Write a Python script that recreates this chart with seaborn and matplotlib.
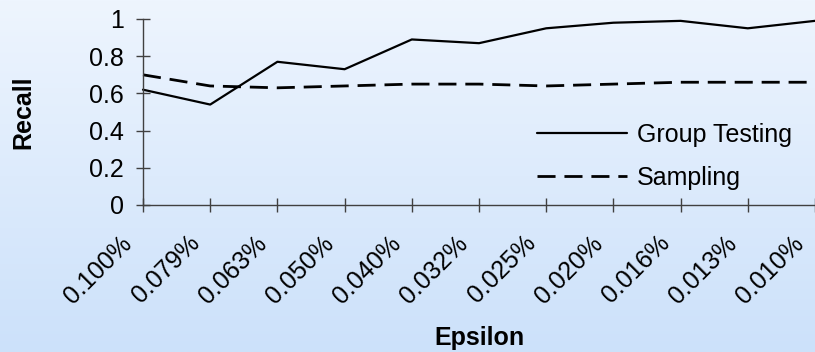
import numpy as np
import pandas as pd
import matplotlib
matplotlib.use("Agg")
import matplotlib.pyplot as plt
import matplotlib.transforms as mtransforms
import seaborn as sns

# Epsilon values (x categories) and recall per method
epsilon = ["0.100%", "0.079%", "0.063%", "0.050%", "0.040%", "0.032%",
           "0.025%", "0.020%", "0.016%", "0.013%", "0.010%"]
group_testing = [0.62, 0.54, 0.77, 0.73, 0.89, 0.87, 0.95, 0.98, 0.99, 0.95, 0.99]
sampling = [0.70, 0.64, 0.63, 0.64, 0.65, 0.65, 0.64, 0.65, 0.66, 0.66, 0.66]
series_names = ["Group Testing", "Sampling"]
y_ticks = [0, 0.2, 0.4, 0.6, 0.8, 1.0]
y_tick_labels = ["0", "0.2", "0.4", "0.6", "0.8", "1"]

df = pd.DataFrame({
    "Epsilon": epsilon * 2,
    "pos": list(range(len(epsilon))) * 2,
    "Recall": group_testing + sampling,
    "Method": [series_names[0]] * len(epsilon) + [series_names[1]] * len(epsilon),
})

sns.set_style("white")
plt.rcParams["font.family"] = ["Liberation Sans", "DejaVu Sans"]
plt.rcParams["text.color"] = "black"
plt.rcParams["axes.labelcolor"] = "black"
FS = 18

W, H = 815, 352
fig = plt.figure(figsize=(W / 100, H / 100), dpi=100)

# soft vertical gradient behind the chart
bg = fig.add_axes([0, 0, 1, 1], zorder=-10)
top = np.array([238, 245, 254]) / 255.0
bottom = np.array([204, 225, 250]) / 255.0
t = np.linspace(0, 1, 256)[:, None]
grad = (top[None, :] * (1 - t) + bottom[None, :] * t)[:, None, :]
bg.imshow(grad, aspect="auto", extent=[0, 1, 0, 1])
bg.axis("off")

ax_left, ax_right, ax_top, ax_bottom = 143, 815, 19, 205
ax = fig.add_axes([ax_left / W, 1 - ax_bottom / H,
                   (ax_right - ax_left) / W, (ax_bottom - ax_top) / H])
ax.set_facecolor("none")

sns.lineplot(
    data=df, x="pos", y="Recall", style="Method", ax=ax,
    color="black", sort=False,
    dashes={series_names[0]: "", series_names[1]: (6.5, 3.2)},
    size="Method", sizes={series_names[0]: 1.6, series_names[1]: 2.0},
    legend="full", clip_on=False,
)

ax.set_xlim(0, len(epsilon) - 1)
ax.set_ylim(0, 1)
ax.set_xticks(range(len(epsilon)))
ax.set_xticklabels(epsilon, rotation=45, ha="right", va="top",
                   rotation_mode="anchor", fontsize=FS)
ax.set_yticks(y_ticks)
ax.set_yticklabels(y_tick_labels, fontsize=FS)

for side in ["top", "right"]:
    ax.spines[side].set_visible(False)
for side in ["left", "bottom"]:
    ax.spines[side].set_color("#404040")
    ax.spines[side].set_linewidth(1.0)
ax.tick_params(axis="both", direction="inout", length=10.5, width=1.0,
               color="#404040", labelcolor="black", bottom=True, left=True)
ax.tick_params(axis="y", pad=8.5)
ax.tick_params(axis="x", pad=2)

# nudge the slanted category labels down and to the left
offset = mtransforms.ScaledTranslation(-23 / 100, -16 / 100, fig.dpi_scale_trans)
for lab in ax.get_xticklabels():
    lab.set_transform(lab.get_transform() + offset)

ax.set_xlabel("Epsilon", fontsize=FS, fontweight="bold", va="center", color="black")
ax.xaxis.set_label_coords(0.5, (ax_bottom - 338) / (ax_bottom - ax_top))
ax.set_ylabel("Recall", fontsize=FS, fontweight="bold", va="center", color="black")
ax.yaxis.set_label_coords((23 - ax_left) / (ax_right - ax_left),
                          (ax_bottom - 112) / (ax_bottom - ax_top))

handles, labels = ax.get_legend_handles_labels()
leg = ax.legend(handles, labels, frameon=False, fontsize=FS,
                loc="upper left", bbox_to_anchor=(537 / W, 1 - 123 / H),
                bbox_transform=fig.transFigure, borderpad=0, borderaxespad=0,
                handlelength=3.6, handletextpad=0.4, labelspacing=0.75)
for txt in leg.get_texts():
    txt.set_color("black")

fig.savefig("out.png", dpi=100)
